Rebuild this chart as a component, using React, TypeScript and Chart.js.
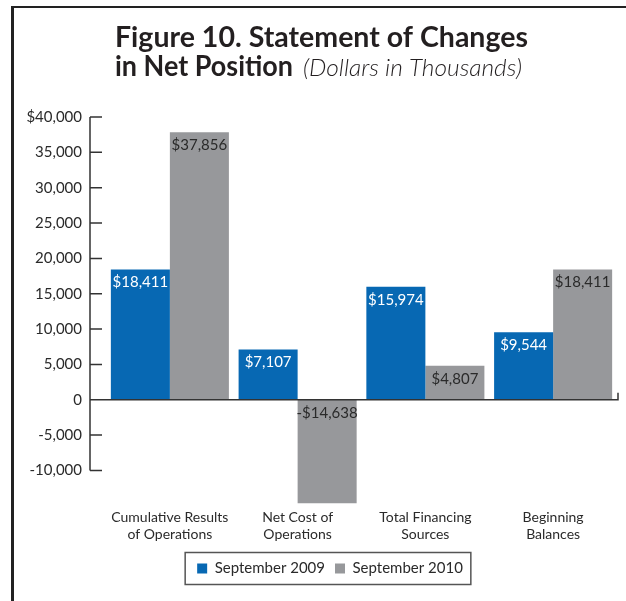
import React, { useEffect, useRef } from 'react';
import { Chart, registerables } from 'chart.js';

Chart.register(...registerables);

// ---- data ----
const titleLine1 = 'Figure 10. Statement of Changes';
const titleLine2Bold = 'in Net Position';
const titleLine2Italic = '(Dollars in Thousands)';
const categories: string[][] = [
  ['Cumulative Results', 'of Operations'],
  ['Net Cost of', 'Operations'],
  ['Total Financing', 'Sources'],
  ['Beginning', 'Balances'],
];
const seriesNames = ['September 2009', 'September 2010'];
const sept2009 = [18411, 7107, 15974, 9544];
const sept2010 = [37856, -14638, 4807, 18411];
const yTickValues = [-10000, -5000, 0, 5000, 10000, 15000, 20000, 25000, 30000, 35000, 40000];
const yTickLabels = ['-10,000', '-5,000', '0', '5,000', '10,000', '15,000', '20,000', '25,000', '30,000', '35,000', '$40,000'];

const BLUE = '#0768b3';
const GRAY = '#97989b';
const TEXT = '#2a2a2a';
const FONT = "Lato, 'Noto Sans', sans-serif";

const fmtMoney = (v: number) => (v < 0 ? '-$' : '$') + Math.abs(v).toLocaleString('en-US');

const titlePlugin = {
  id: 'mixedTitle',
  afterDraw(chart: any) {
    const { ctx } = chart;
    ctx.save();
    ctx.fillStyle = '#231f20';
    ctx.textBaseline = 'alphabetic';
    ctx.textAlign = 'left';
    const boldFont = `bold 28px ${FONT}`;
    // line 1
    ctx.font = boldFont;
    const w1 = ctx.measureText(titleLine1).width;
    const sx = 413 / w1;
    ctx.save();
    ctx.translate(115, 47);
    ctx.scale(sx, 1);
    ctx.fillText(titleLine1, 0, 0);
    ctx.restore();
    // line 2
    const wb = ctx.measureText(titleLine2Bold).width;
    const sb = 178 / wb;
    ctx.save();
    ctx.translate(115, 76);
    ctx.scale(sb, 1);
    ctx.fillText(titleLine2Bold, 0, 0);
    ctx.restore();
    ctx.font = `italic 300 21px ${FONT}`;
    const wi = ctx.measureText(titleLine2Italic).width;
    const isz = (21 * 219) / wi;
    ctx.font = `italic 300 ${isz.toFixed(2)}px ${FONT}`;
    ctx.fillText(titleLine2Italic, 303, 76);
    ctx.restore();
  },
};

const axisPlugin = {
  id: 'customAxis',
  afterLayout(chart: any) {
    // let the y tick labels use the space to the left of the axis box
    chart.scales.y.left = 0;
  },
  afterDatasetsDraw(chart: any) {
    const { ctx, chartArea } = chart;
    const y = chart.scales.y;
    const ax = chartArea.left - 16;
    ctx.save();
    ctx.strokeStyle = '#333';
    ctx.lineWidth = 1.5;
    ctx.beginPath();
    ctx.moveTo(ax, y.getPixelForValue(yTickValues[yTickValues.length - 1]));
    ctx.lineTo(ax, y.getPixelForValue(yTickValues[0]));
    yTickValues.forEach((v) => {
      const py = y.getPixelForValue(v);
      ctx.moveTo(ax, py);
      ctx.lineTo(ax + 12, py);
    });
    const zy = y.getPixelForValue(0);
    ctx.moveTo(ax, zy);
    ctx.lineTo(chartArea.right + 1, zy);
    ctx.lineTo(chartArea.right + 1, zy - 7);
    ctx.stroke();
    ctx.restore();
  },
};

const valueLabelPlugin = {
  id: 'valueLabels',
  afterDatasetsDraw(chart: any) {
    const { ctx } = chart;
    ctx.save();
    ctx.font = `15px ${FONT}`;
    ctx.textAlign = 'center';
    ctx.textBaseline = 'middle';
    chart.data.datasets.forEach((ds: any, di: number) => {
      const meta = chart.getDatasetMeta(di);
      ctx.fillStyle = di === 0 ? '#ffffff' : TEXT;
      meta.data.forEach((bar: any, i: number) => {
        const top = Math.min(bar.y, bar.base);
        ctx.fillText(fmtMoney(ds.data[i]), bar.x, top + 13);
      });
    });
    ctx.restore();
  },
};

const legendBoxPlugin = {
  id: 'legendBox',
  afterDraw(chart: any) {
    const lg = chart.legend;
    if (!lg || !lg.legendHitBoxes || !lg.legendHitBoxes.length) return;
    const hb = lg.legendHitBoxes;
    const first = hb[0];
    const last = hb[hb.length - 1];
    const cy = first.top + first.height / 2;
    const { ctx } = chart;
    ctx.save();
    ctx.strokeStyle = '#555';
    ctx.lineWidth = 1.5;
    ctx.strokeRect(first.left - 12, cy - 16, last.left + last.width + 8 - (first.left - 12), 32);
    ctx.restore();
  },
};

function ChartCanvas() {
  const ref = useRef<HTMLCanvasElement>(null);
  useEffect(() => {
    if (!ref.current) return;
    const chart = new Chart(ref.current, {
      type: 'bar',
      data: {
        labels: categories,
        datasets: [
          { label: seriesNames[0], data: sept2009, backgroundColor: BLUE, borderWidth: 0 },
          { label: seriesNames[1], data: sept2010, backgroundColor: GRAY, borderWidth: 0 },
        ],
      },
      options: {
        animation: false,
        responsive: false,
        maintainAspectRatio: false,
        layout: { padding: { top: 117, left: 43, right: 9, bottom: 15 } },
        datasets: { bar: { categoryPercentage: 0.924, barPercentage: 1 } },
        scales: {
          x: {
            grid: { display: false, drawTicks: false },
            border: { display: false },
            ticks: { color: TEXT, font: { family: FONT, size: 14 }, padding: 3, maxRotation: 0, autoSkip: false },
            afterFit: (scale: any) => { scale.height += 5.6; },
          },
          y: {
            min: -15000,
            max: 40000,
            grid: { display: false, drawTicks: false },
            border: { display: false },
            afterBuildTicks: (scale: any) => { scale.ticks = yTickValues.map((v) => ({ value: v })); },
            afterFit: (scale: any) => { scale.width = 63; },
            ticks: {
              color: TEXT,
              font: { family: FONT, size: 15 },
              padding: 24,
              callback: (v: any) => {
                const i = yTickValues.indexOf(Number(v));
                return i >= 0 ? yTickLabels[i] : '';
              },
            },
          },
        },
        plugins: {
          title: { display: false },
          tooltip: { enabled: false },
          legend: {
            position: 'bottom',
            labels: {
              color: TEXT,
              font: { family: FONT, size: 15 },
              boxWidth: 10,
              boxHeight: 10,
              padding: 10,
            },
          },
        },
      },
      plugins: [axisPlugin, valueLabelPlugin, legendBoxPlugin, titlePlugin],
    } as any);
    return () => chart.destroy();
  }, []);
  return <canvas ref={ref} width={626} height={601} style={{ position: 'absolute', left: 0, top: 0, width: 626, height: 601 }} />;
}

export default function App() {
  return (
    <div style={{ position: 'absolute', left: 0, top: 0, width: 626, height: 601, background: '#fff', overflow: 'hidden' }}>
      <div style={{ position: 'absolute', left: 11, top: 6, width: 620, height: 600, borderTop: '2px solid #222', borderLeft: '3px solid #222' }} />
      <ChartCanvas />
    </div>
  );
}
